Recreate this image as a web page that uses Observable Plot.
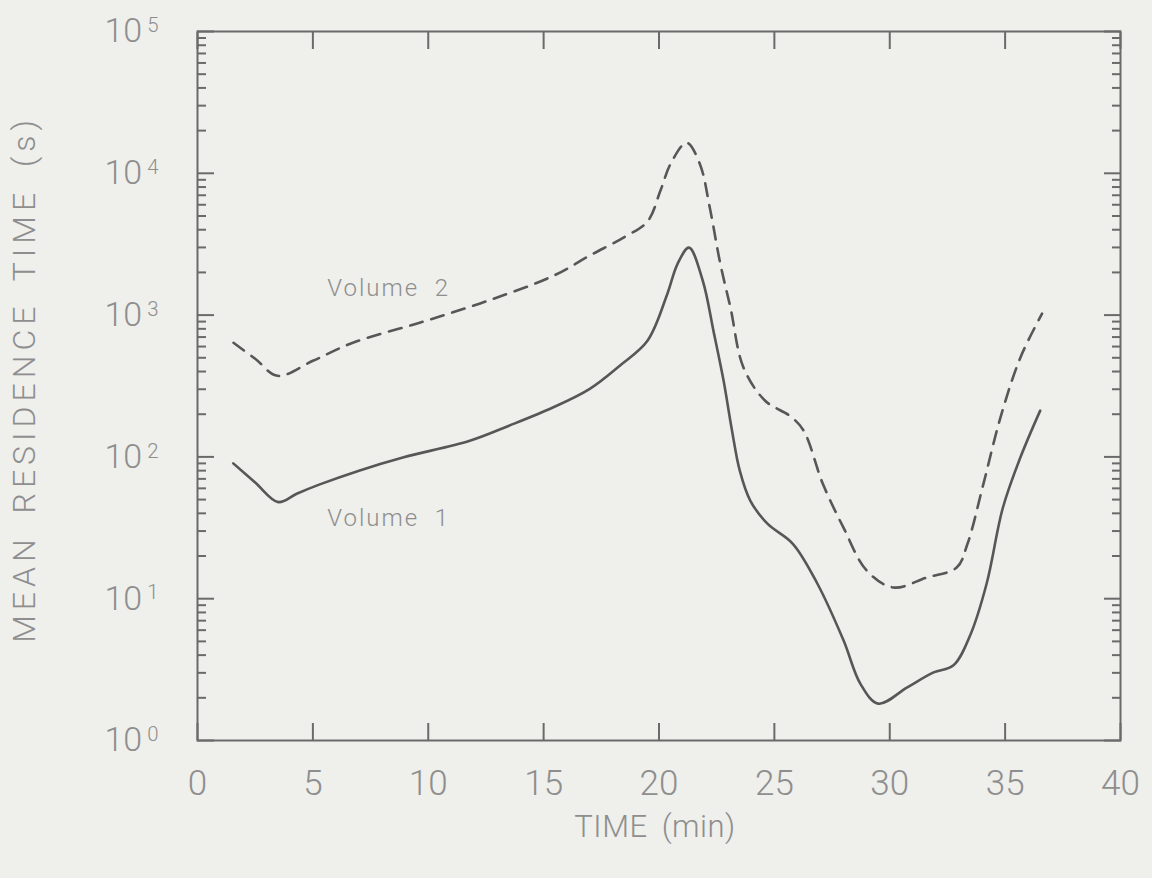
<!DOCTYPE html>
<html>
<head>
<meta charset="utf-8">
<script src="https://cdn.jsdelivr.net/npm/d3@7"></script>
<script src="https://cdn.jsdelivr.net/npm/@observablehq/plot@0.6"></script>
<style>
  html, body { margin: 0; padding: 0; background: #efefec; }
  #chart svg { display: block; }
</style>
</head>
<body>
<div id="chart"></div>
<script>
// ---- Data ----
const volume1Time  = [1.55, 2.5, 3.5, 4.3, 5.3, 7.0, 8.9, 11.8, 13.5, 15.4, 17.0, 18.3, 19.5, 20.36, 20.8, 21.3, 21.9, 22.36, 22.8, 23.15, 23.5, 23.96, 24.7, 25.8, 26.86, 28.0, 28.73, 29.5, 30.76, 31.9, 32.76, 33.5, 34.2, 34.9, 35.66, 36.52];
const volume1Value = [90, 66, 48, 55, 64, 80, 99, 130, 166, 223, 302, 440, 659, 1410, 2290, 2990, 1740, 774, 344, 158, 80, 49, 33.8, 24.4, 12.8, 5.07, 2.51, 1.82, 2.37, 3.02, 3.39, 5.6, 12.8, 43.6, 99, 212];

const volume2Time  = [1.56, 2.5, 3.47, 5.0, 6.76, 9.66, 12.56, 15.42, 17.0, 18.5, 19.5, 20.06, 20.5, 21.2, 21.77, 22.2, 22.66, 23.1, 23.66, 24.6, 25.7, 26.27, 27.1, 28.0, 29.0, 30.16, 31.6, 32.9, 33.37, 34.06, 34.8, 35.66, 36.6];
const volume2Value = [638, 492, 373, 476, 641, 887, 1259, 1892, 2630, 3550, 4570, 7520, 11640, 16440, 11640, 5730, 2290, 1122, 427, 249, 193, 153, 64.6, 31.6, 15.8, 12, 14.1, 16.6, 24.4, 64.6, 190, 501, 1023];

const seriesLabelText  = ["Volume  2", "Volume  1"];
const seriesLabelTime  = [5.62, 5.62];
const seriesLabelValue = [1550, 37];

const xTickValues = [0, 5, 10, 15, 20, 25, 30, 35, 40];
const yTickValues = [1, 10, 100, 1000, 10000, 100000];
const yTickExponents = ["0", "1", "2", "3", "4", "5"];
const xTitle = "TIME (min)";
const yTitle = "MEAN RESIDENCE TIME (s)";

// ---- Tables built from the arrays ----
const v1 = volume1Time.map((t, i) => ({t, v: volume1Value[i]}));
const v2 = volume2Time.map((t, i) => ({t, v: volume2Value[i]}));
const labels = seriesLabelText.map((s, i) => ({s, t: seriesLabelTime[i], v: seriesLabelValue[i]}));
const yMinor = [];
for (let k = 0; k < 5; k++) for (let m = 2; m <= 9; m++) yMinor.push(m * Math.pow(10, k));

const axisColor = "#6a6a6a";
const textColor = "#8e8e8e";
const lineColor = "#575757";
const tickOpts = {label: null, text: null, stroke: axisColor, strokeWidth: 2};

const chart = Plot.plot({
  width: 1152,
  height: 878,
  marginLeft: 197,
  marginRight: 32,
  marginTop: 31,
  marginBottom: 138,
  style: {background: "#efefec", fontFamily: "Roboto, 'DejaVu Sans', sans-serif", color: textColor},
  x: {domain: [0, 40]},
  y: {type: "log", domain: [1, 100000]},
  marks: [
    Plot.frame({stroke: axisColor, strokeWidth: 2}),
    // inward ticks
    Plot.axisX(xTickValues, {anchor: "bottom", tickSize: -17, ...tickOpts}),
    Plot.axisX(xTickValues, {anchor: "top", tickSize: -17, ...tickOpts}),
    Plot.axisY(yTickValues, {anchor: "left", tickSize: -17, ...tickOpts}),
    Plot.axisY(yTickValues, {anchor: "right", tickSize: -17, ...tickOpts}),
    Plot.axisY(yMinor, {anchor: "left", tickSize: -9, ...tickOpts}),
    Plot.axisY(yMinor, {anchor: "right", tickSize: -9, ...tickOpts}),
    // tick labels
    Plot.axisX(xTickValues, {anchor: "bottom", tickSize: 0, tickPadding: 30, fontSize: 35, fontWeight: 300, fill: textColor, label: null, tickFormat: d => String(d)}),
    Plot.axisY(yTickValues, {anchor: "left", tickSize: 0, tickPadding: 39, fontSize: 34, fontWeight: 300, fill: textColor, label: null,
      tickFormat: d => "10^" + yTickExponents[yTickValues.indexOf(d)]}),
    // titles
    Plot.text([xTitle], {frameAnchor: "bottom", dy: 87, dx: -4, lineAnchor: "middle", textAnchor: "middle", text: d => d, fontSize: 31, fontWeight: 300, fill: textColor}),
    Plot.text([yTitle], {frameAnchor: "left", dx: -173, dy: -7, rotate: -90, lineAnchor: "middle", textAnchor: "middle", text: d => d, fontSize: 32, fontWeight: 300, fill: textColor}),
    // curves
    Plot.line(v1, {x: "t", y: "v", curve: "catmull-rom", stroke: lineColor, strokeWidth: 2.6}),
    Plot.line(v2, {x: "t", y: "v", curve: "catmull-rom", stroke: lineColor, strokeWidth: 2.6, strokeDasharray: "13,9"}),
    // series labels
    Plot.text(labels, {x: "t", y: "v", text: "s", textAnchor: "start", fontSize: 24, fontWeight: 300, fill: textColor})
  ]
});

document.getElementById("chart").appendChild(chart);

// post-process text: superscript exponents and letter spacing
chart.querySelectorAll("text").forEach(t => {
  const s = t.textContent;
  if (s.includes("^")) {
    const parts = s.split("^");
    t.textContent = parts[0];
    const sup = document.createElementNS("http://www.w3.org/2000/svg", "tspan");
    sup.setAttribute("dy", "-0.5em");
    sup.setAttribute("dx", "5");
    sup.setAttribute("font-size", "0.6em");
    sup.textContent = parts[1];
    t.appendChild(sup);
  } else if (s === yTitle) {
    t.style.letterSpacing = "5px";
    t.style.wordSpacing = "8px";
  } else if (s === xTitle) {
    t.style.letterSpacing = "0.5px";
    t.style.wordSpacing = "6px";
  } else if (seriesLabelText.includes(s)) {
    t.style.letterSpacing = "2px";
    t.style.whiteSpace = "pre";
  }
});
</script>
</body>
</html>
